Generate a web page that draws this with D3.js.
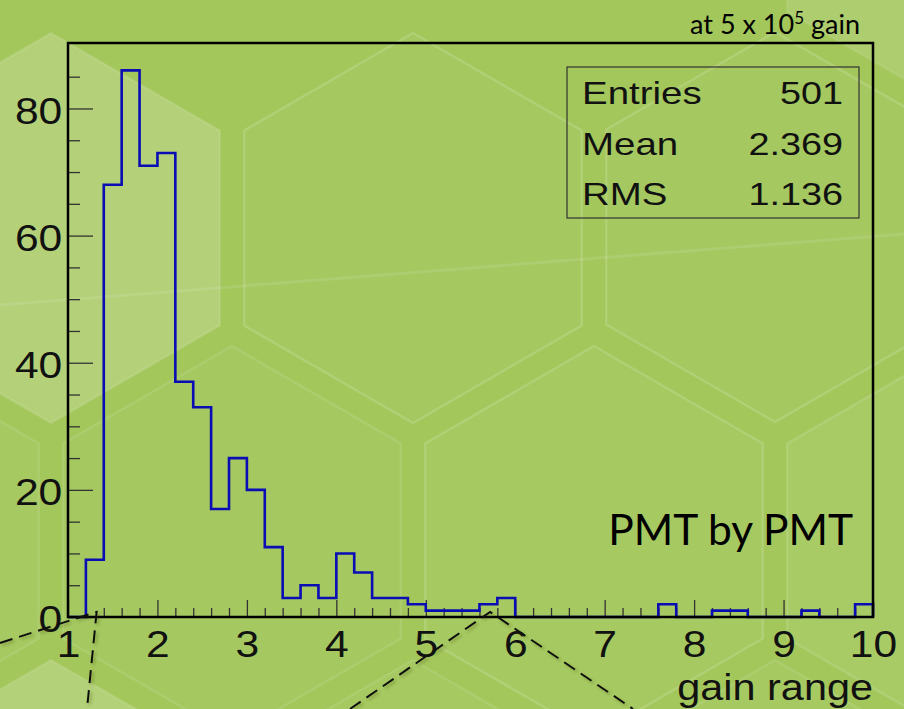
<!DOCTYPE html>
<html>
<head>
<meta charset="utf-8">
<script src="https://cdn.jsdelivr.net/npm/d3@7"></script>
<style>
  html, body { margin: 0; padding: 0; background: #a4c85c; }
  svg { display: block; }
</style>
</head>
<body>
<svg id="chart" width="904" height="709"></svg>
<script>
// histogram: 45 bins of 0.2 between 1 and 10
const xDomain = [1, 10];
const binWidth = 0.2;
const counts = [
  0, 9, 68, 86, 71, 73, 37, 33, 17, 25,
  20, 11, 3, 5, 3, 10, 7, 3, 3, 2,
  1, 1, 1, 2, 3, 0, 0, 0, 0, 0,
  0, 0, 0, 2, 0, 0, 1, 1, 0, 0,
  0, 1, 0, 0, 2
];
const yMax = 90.3; // ROOT: 1.05 * max bin

const xMajor = [1, 2, 3, 4, 5, 6, 7, 8, 9, 10];
const yMajor = [0, 20, 40, 60, 80];
const yMinor = [5, 10, 15, 25, 30, 35, 45, 50, 55, 65, 70, 75, 85];

const statsLabels = ['Entries', 'Mean', 'RMS'];
const statsValues = ['501', '2.369', '1.136'];

// background honeycomb (decoration only)
const hexes = [
  { cx: 956, cy: -86, fill: 0.12, edge: 0.08 },
  { cx: 51, cy: 228, fill: 0.19, edge: 0.1 }, { cx: 413, cy: 228, fill: 0.03, edge: 0.15 },
  { cx: 775, cy: 227, fill: 0.03, edge: 0.15 },
  { cx: -130, cy: 541, fill: 0.04, edge: 0.1 }, { cx: 232, cy: 541, fill: 0.03, edge: 0.1 },
  { cx: 594, cy: 541, fill: 0.04, edge: 0.15 }, { cx: 956, cy: 541, fill: 0.07, edge: 0.12 },
  { cx: 51, cy: 855, fill: 0.18, edge: 0.1 }, { cx: 413, cy: 855, fill: 0.04, edge: 0.1 },
  { cx: 775, cy: 855, fill: 0.04, edge: 0.1 }
];
const hexSide = 195;

const W = 904, H = 709;
const margin = { left: 68, right: 31, top: 43, bottom: 92 };

const svg = d3.select('#chart');

// defs: shadow for the dashed zoom lines
const defs = svg.append('defs');
defs.append('filter')
  .attr('id', 'shadow')
  .attr('x', '-20%').attr('y', '-20%').attr('width', '140%').attr('height', '140%')
  .append('feDropShadow')
  .attr('dx', 2).attr('dy', 2).attr('stdDeviation', 1.5)
  .attr('flood-color', '#3b4a1c').attr('flood-opacity', 0.35);

// background
svg.append('rect')
  .attr('width', W).attr('height', H)
  .attr('fill', '#a3c75b');

const hexPoints = (cx, cy) => d3.range(6).map(k => {
  const a = Math.PI / 180 * (60 * k - 90);
  return [cx + hexSide * Math.cos(a), cy + hexSide * Math.sin(a)];
});

svg.append('g')
  .attr('id', 'hexes')
  .selectAll('polygon')
  .data(hexes)
  .enter()
  .append('polygon')
  .attr('points', d => hexPoints(d.cx, d.cy).map(p => p.join(',')).join(' '))
  .attr('fill', d => `rgba(255,255,255,${d.fill})`)
  .attr('stroke', d => `rgba(255,255,255,${d.edge})`)
  .attr('stroke-width', 2.5);

// faint light streak across the slide
svg.append('line')
  .attr('x1', 0).attr('y1', 305).attr('x2', W).attr('y2', 234)
  .attr('stroke', 'rgba(255,255,255,0.1)')
  .attr('stroke-width', 3);

// scales
const x = d3.scaleLinear().domain(xDomain).range([margin.left, W - margin.right]);
const y = d3.scaleLinear().domain([0, yMax]).range([H - margin.bottom, margin.top]);

const rootFont = '"Liberation Sans", Arial, Helvetica, sans-serif';
const tickFont = 37;
const stretch = 1.15;

// x axis (ticks pointing into the frame)
const xMinor = d3.range(0, counts.length + 1)
  .map(i => xDomain[0] + i * binWidth)
  .filter(v => Math.abs(v - Math.round(v)) > 1e-6);

const xAxisMinor = svg.append('g')
  .attr('transform', `translate(0,${y(0)})`)
  .call(d3.axisBottom(x).tickValues(xMinor).tickSizeInner(-9).tickSizeOuter(0).tickFormat(''));

const xAxis = svg.append('g')
  .attr('transform', `translate(0,${y(0)})`)
  .call(d3.axisBottom(x).tickValues(xMajor).tickSizeInner(-17).tickSizeOuter(0)
    .tickPadding(14).tickFormat(d3.format('d')));

// y axis
const yAxisMinor = svg.append('g')
  .attr('transform', `translate(${x(xDomain[0])},0)`)
  .call(d3.axisLeft(y).tickValues(yMinor).tickSizeInner(-12).tickSizeOuter(0).tickFormat(''));

const yAxis = svg.append('g')
  .attr('transform', `translate(${x(xDomain[0])},0)`)
  .call(d3.axisLeft(y).tickValues(yMajor).tickSizeInner(-25).tickSizeOuter(0)
    .tickPadding(5).tickFormat(d3.format('d')));

[xAxisMinor, xAxis, yAxisMinor, yAxis].forEach(a => {
  a.select('.domain').remove();
  a.selectAll('.tick line').attr('stroke', '#333').attr('stroke-width', 1.3);
});

xAxis.selectAll('.tick text')
  .attr('font-family', rootFont)
  .attr('font-size', tickFont)
  .attr('fill', '#111')
  .attr('transform', `scale(${stretch},1)`);

yAxis.selectAll('.tick text')
  .attr('font-family', rootFont)
  .attr('font-size', tickFont)
  .attr('fill', '#111')
  .attr('dy', '0.40em')
  .attr('transform', `scale(${stretch},1)`);

// histogram outline
const steps = [];
steps.push([xDomain[0], 0]);
counts.forEach((c, i) => {
  const lo = xDomain[0] + i * binWidth;
  steps.push([lo, c]);
  steps.push([lo + binWidth, c]);
});
steps.push([xDomain[1], 0]);

svg.append('path')
  .datum(steps)
  .attr('d', d3.line().x(d => x(d[0])).y(d => y(d[1])))
  .attr('fill', 'none')
  .attr('stroke', '#0a0db4')
  .attr('stroke-width', 2.6)
  .attr('stroke-linejoin', 'miter');

// frame
svg.append('rect')
  .attr('x', x(xDomain[0])).attr('y', y(yMax))
  .attr('width', x(xDomain[1]) - x(xDomain[0]))
  .attr('height', y(0) - y(yMax))
  .attr('fill', 'none')
  .attr('stroke', '#000')
  .attr('stroke-width', 2.5);

// stats box
const stats = svg.append('g').attr('id', 'stats');
stats.append('rect')
  .attr('x', 567).attr('y', 67).attr('width', 292).attr('height', 151)
  .attr('fill', 'none')
  .attr('stroke', '#333')
  .attr('stroke-width', 1.2);

const statsRows = stats.selectAll('g.row')
  .data(statsLabels.map((l, i) => ({ label: l, value: statsValues[i], i })))
  .enter()
  .append('g')
  .attr('class', 'row')
  .attr('transform', d => `translate(0,${104 + d.i * 50.5})`);

statsRows.append('text')
  .attr('transform', 'translate(582,0) scale(1.24,1)')
  .attr('font-family', rootFont)
  .attr('font-size', 31)
  .attr('fill', '#111')
  .text(d => d.label);

statsRows.append('text')
  .attr('transform', 'translate(843,0) scale(1.22,1)')
  .attr('text-anchor', 'end')
  .attr('font-family', rootFont)
  .attr('font-size', 31)
  .attr('fill', '#111')
  .text(d => d.value);

// x title
svg.append('text')
  .attr('transform', 'translate(873,700) scale(1.12,1)')
  .attr('text-anchor', 'end')
  .attr('font-family', rootFont)
  .attr('font-size', 37)
  .attr('fill', '#111')
  .text('gain range');

// slide annotations
svg.append('text')
  .attr('x', 853).attr('y', 545)
  .attr('text-anchor', 'end')
  .attr('font-family', 'Lato, "Open Sans", sans-serif')
  .attr('font-size', 42.5)
  .attr('fill', '#000')
  .text('PMT by PMT');

const gainNote = svg.append('text')
  .attr('x', 860).attr('y', 34)
  .attr('text-anchor', 'end')
  .attr('font-family', 'Lato, "Open Sans", sans-serif')
  .attr('font-size', 27)
  .attr('fill', '#000');
gainNote.append('tspan').text('at 5 x 10');
gainNote.append('tspan').attr('dy', -10).attr('font-size', 17).text('5');
gainNote.append('tspan').attr('dy', 10).text(' gain');

// dashed zoom lines towards the next panel
const zoomLines = [
  [[0, 643], [x(1.32), y(0.8)], [87, H]],
  [[350, H], [x(5.72), y(0.8)], [633, H]]
];
svg.append('g')
  .attr('filter', 'url(#shadow)')
  .selectAll('path')
  .data(zoomLines)
  .enter()
  .append('path')
  .attr('d', d3.line())
  .attr('fill', 'none')
  .attr('stroke', '#111')
  .attr('stroke-width', 2)
  .attr('stroke-dasharray', '13,7');
</script>
</body>
</html>
